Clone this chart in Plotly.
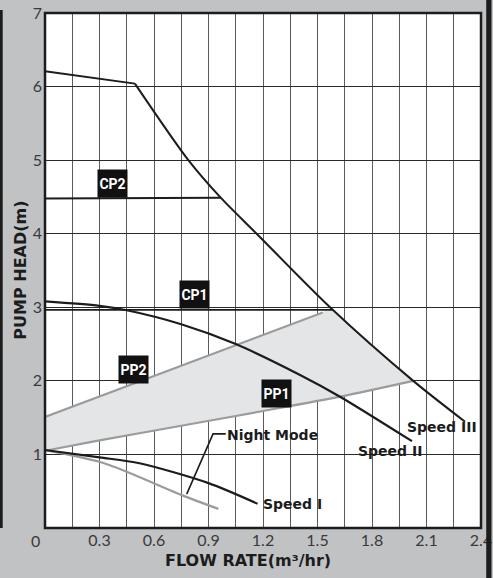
import plotly.graph_objects as go

# ---- data ----
speed3_flat_x = [0.0, 0.495]
speed3_flat_y = [6.21, 6.04]
speed3_x = [0.495, 0.789, 0.967, 1.165, 1.569, 2.027, 2.312]
speed3_y = [6.04, 5.00, 4.49, 4.00, 3.00, 2.00, 1.445]

speed2_x = [0.0, 0.3, 0.45, 0.75, 1.05, 1.404, 1.624, 2.02]
speed2_y = [3.08, 3.02, 2.96, 2.77, 2.50, 2.08, 1.785, 1.18]

speed1_x = [0.0, 0.3, 0.52, 0.9, 1.17]
speed1_y = [1.06, 0.96, 0.88, 0.61, 0.33]

night_x = [0.0, 0.3, 0.45, 0.75, 0.954]
night_y = [1.06, 0.90, 0.765, 0.45, 0.26]

cp2_x = [0.0, 0.967]
cp2_y = [4.48, 4.49]

cp1_x = [0.0, 1.585]
cp1_y = [2.965, 2.965]

pp2_x = [0.0, 1.529]
pp2_y = [1.51, 2.93]

pp1_x = [0.0, 0.3, 0.75, 1.2, 1.624, 2.027]
pp1_y = [1.05, 1.19, 1.39, 1.59, 1.785, 2.0]

x_ticks = [0.3, 0.6, 0.9, 1.2, 1.5, 1.8, 2.1, 2.4]
x_tick_labels = ["0.3", "0.6", "0.9", "1.2", "1.5", "1.8", "2.1", "2.4"]
y_ticks = [1, 2, 3, 4, 5, 6, 7]
y_tick_labels = ["1", "2", "3", "4", "5", "6", "7"]

box_labels = ["CP2", "CP1", "PP2", "PP1"]
box_x = [0.374, 0.824, 0.489, 1.276]
box_y = [4.68, 3.17, 2.16, 1.83]

curve_labels = ["Speed III", "Speed II", "Speed I", "Night Mode"]
curve_label_x = [2.185, 1.90, 1.36, 1.255]
curve_label_y = [1.37, 1.05, 0.33, 1.26]

night_leader_x = [0.995, 0.925, 0.78]
night_leader_y = [1.28, 1.28, 0.46]

# ---- figure ----
BLACK = "#1c1c1c"
GREY_LINE = "#9a9b9d"
FILL = "#e4e5e7"
BG = "#c1c2c4"
BOLD = "DejaVu Sans, sans-serif"

fig = go.Figure()

# shaded operating region: PP2 (top) -> Speed III (right) -> PP1 (bottom)
region_x = pp2_x + [speed3_x[4], speed3_x[5]] + pp1_x[::-1]
region_y = pp2_y + [speed3_y[4], speed3_y[5]] + pp1_y[::-1]
fig.add_trace(go.Scatter(x=region_x, y=region_y, fill="toself", fillcolor=FILL,
                         line=dict(width=0), mode="lines", hoverinfo="skip"))

def line(x, y, color, width=2.2, smooth=True):
    fig.add_trace(go.Scatter(x=x, y=y, mode="lines",
                             line=dict(color=color, width=width,
                                       shape="spline" if smooth else "linear",
                                       smoothing=0.8)))

line(pp2_x, pp2_y, GREY_LINE, smooth=False)
line(pp1_x, pp1_y, GREY_LINE)
line(night_x, night_y, GREY_LINE)
line(speed3_flat_x, speed3_flat_y, BLACK, 2, smooth=False)
line(speed3_x, speed3_y, BLACK, 2)
line(speed2_x, speed2_y, BLACK)
line(speed1_x, speed1_y, BLACK)
line(cp2_x, cp2_y, BLACK, 2, smooth=False)
line(cp1_x, cp1_y, BLACK, 1.6, smooth=False)
line(night_leader_x, night_leader_y, BLACK, 1.6, smooth=False)

ann = []
for t, x, y in zip(box_labels, box_x, box_y):
    ann.append(dict(x=x, y=y, xref="x", yref="y", text="<b>%s</b>" % t, showarrow=False,
                    font=dict(family="Roboto, sans-serif", size=14, color="white"),
                    bgcolor="#111111", width=29, height=27, borderpad=0))
for t, x, y in zip(curve_labels, curve_label_x, curve_label_y):
    ann.append(dict(x=x, y=y, xref="x", yref="y", text="<b>%s</b>" % t, showarrow=False,
                    font=dict(family=BOLD, size=14, color=BLACK)))
# origin label
ann.append(dict(x=0, y=0, xref="x", yref="y", text="0", showarrow=False, yanchor="top",
                xshift=-10, yshift=-1,
                font=dict(family="Lato, sans-serif", size=16, color="#3a3a3a")))
# axis titles
ann.append(dict(x=0.466, y=-0.04, xref="paper", yref="paper", yanchor="top", xanchor="center",
                text="<b>FLOW RATE(m³/hr)</b>", showarrow=False,
                font=dict(family=BOLD, size=16, color=BLACK)))
ann.append(dict(x=-0.057, y=0.5, xref="paper", yref="paper", textangle=-90,
                xanchor="center", yanchor="middle",
                text="<b>PUMP HEAD(m)</b>", showarrow=False,
                font=dict(family=BOLD, size=16, color=BLACK)))

shapes = [
    # plot frame
    dict(type="rect", xref="paper", yref="paper", x0=0, x1=1, y0=0, y1=1,
         line=dict(color=BLACK, width=2.5), layer="above"),
    # left dark bar
    dict(type="rect", xref="paper", yref="paper", x0=-0.104, x1=-0.097, y0=0.0, y1=1.006,
         fillcolor=BLACK, line=dict(width=0), layer="above"),
    # right dark bar
    dict(type="rect", xref="paper", yref="paper", x0=1.012, x1=1.024, y0=-0.1, y1=1.03,
         fillcolor=BLACK, line=dict(width=0), layer="above"),
]

fig.update_layout(
    width=493, height=578,
    margin=dict(l=45, r=12, t=13, b=50),
    paper_bgcolor=BG, plot_bgcolor="white",
    showlegend=False,
    annotations=ann, shapes=shapes,
    xaxis=dict(range=[0, 2.4], tickvals=x_ticks, ticktext=x_tick_labels,
               showgrid=True, gridcolor="#5a5a5a", gridwidth=1,
               minor=dict(dtick=0.15, showgrid=True, gridcolor="#5a5a5a", gridwidth=1),
               zeroline=False, ticks="", ticklabelstandoff=1, automargin=False,
               tickfont=dict(family="Lato, sans-serif", size=16, color="#3a3a3a")),
    yaxis=dict(range=[0, 7], tickvals=y_ticks, ticktext=y_tick_labels,
               showgrid=True, gridcolor="#2a2a2a", gridwidth=1.2,
               zeroline=False, ticks="", ticklabelstandoff=2, automargin=False,
               tickfont=dict(family="Lato, sans-serif", size=16, color="#3a3a3a")),
)

fig.write_html("out.html", config={"displayModeBar": False},
               post_script="document.body.style.margin='0';document.body.style.overflow='hidden';")
